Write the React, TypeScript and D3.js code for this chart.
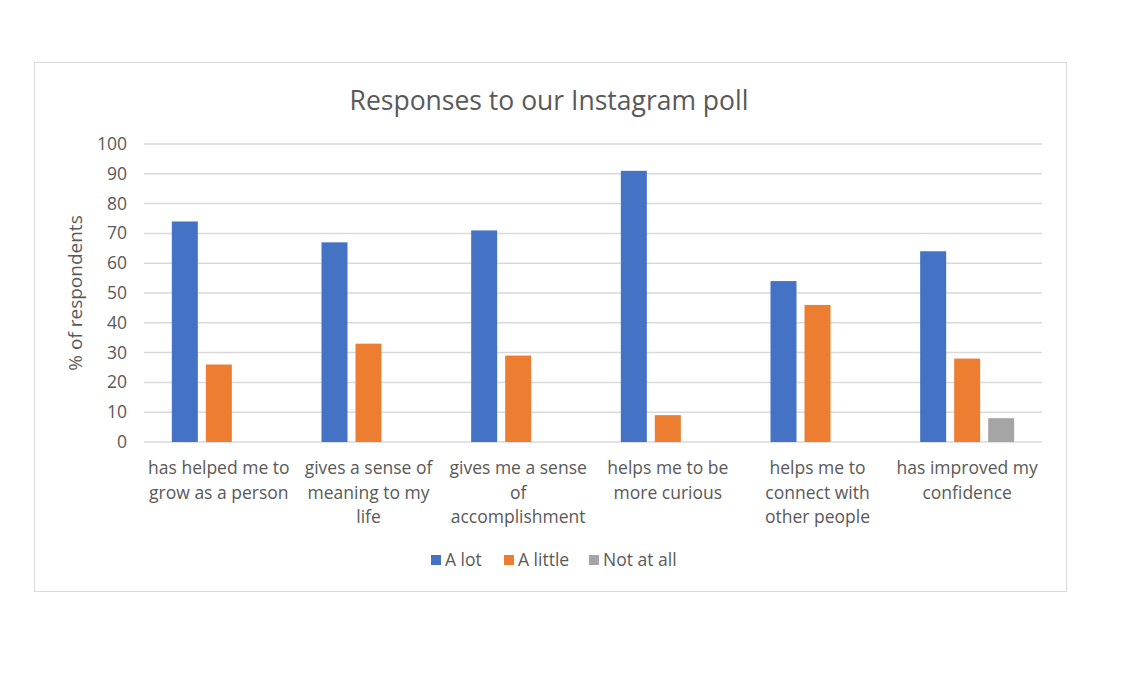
import React from "react";
import * as d3 from "d3";

const categories: string[][] = [
  ["has helped me to", "grow as a person"],
  ["gives a sense of", "meaning to my", "life"],
  ["gives me a sense", "of", "accomplishment"],
  ["helps me to be", "more curious"],
  ["helps me to", "connect with", "other people"],
  ["has improved my", "confidence"],
];
const seriesNames = ["A lot", "A little", "Not at all"];
const aLot = [74, 67, 71, 91, 54, 64];
const aLittle = [26, 33, 29, 9, 46, 28];
const notAtAll = [0, 0, 0, 0, 0, 8];
const colors = ["#4472C4", "#ED7D31", "#A5A5A5"];
const yTicks = [0, 10, 20, 30, 40, 50, 60, 70, 80, 90, 100];

export default function App() {
  const W = 1125, H = 700;
  const left = 144, right = 1042, top = 144, bottom = 442;
  const font = "'Open Sans', sans-serif";
  const textColor = "#595959";
  const series = [aLot, aLittle, notAtAll];

  const x = d3.scaleBand<number>().domain(d3.range(categories.length)).range([left, right]).paddingInner(0).paddingOuter(0);
  const y = d3.scaleLinear().domain([0, 100]).range([bottom, top]);
  const barW = 26, gap = 8;

  return (
    <svg width={W} height={H} style={{ position: "absolute", left: 0, top: 0, background: "#fff" }}>
      <rect x={34.5} y={62.5} width={1032} height={529} fill="#fff" stroke="#D9D9D9" strokeWidth={1} />
      <text x={549} y={110} textAnchor="middle" fontFamily={font} fontSize={26.5} fill={textColor}>
        Responses to our Instagram poll
      </text>
      {yTicks.map((t) => (
        <g key={t}>
          <line x1={left} x2={right} y1={y(t)} y2={y(t)} stroke="#D9D9D9" strokeWidth={1.5} />
          <text x={127} y={y(t) + 6} textAnchor="end" fontFamily={font} fontSize={17.5} fill={textColor}>
            {t}
          </text>
        </g>
      ))}
      <text
        transform={`translate(82, ${(top + bottom) / 2}) rotate(-90)`}
        textAnchor="middle"
        fontFamily={font}
        fontSize={19}
        fill={textColor}
      >
        % of respondents
      </text>
      {categories.map((_, i) => {
        const cx = (x(i) as number) + x.bandwidth() / 2;
        return (
          <g key={i}>
            {series.map((s, j) => {
              const v = s[i];
              if (!v) return null;
              const bx = cx + (j - 1) * (barW + gap) - barW / 2;
              return <rect key={j} x={bx} y={y(v)} width={barW} height={y(0) - y(v)} fill={colors[j]} />;
            })}
          </g>
        );
      })}
      {categories.map((lines, i) => {
        const cx = (x(i) as number) + x.bandwidth() / 2;
        return (
          <text key={i} textAnchor="middle" fontFamily={font} fontSize={17.5} fill={textColor}>
            {lines.map((l, k) => (
              <tspan key={k} x={cx} y={474 + k * 24.5}>
                {l}
              </tspan>
            ))}
          </text>
        );
      })}
      {(() => {
        const starts = [431, 504, 589];
        return seriesNames.map((n, j) => (
          <g key={n}>
            <rect x={starts[j]} y={555} width={10} height={10} fill={colors[j]} />
            <text x={starts[j] + 14} y={566} fontFamily={font} fontSize={17.5} fill={textColor}>
              {n}
            </text>
          </g>
        ));
      })()}
    </svg>
  );
}
